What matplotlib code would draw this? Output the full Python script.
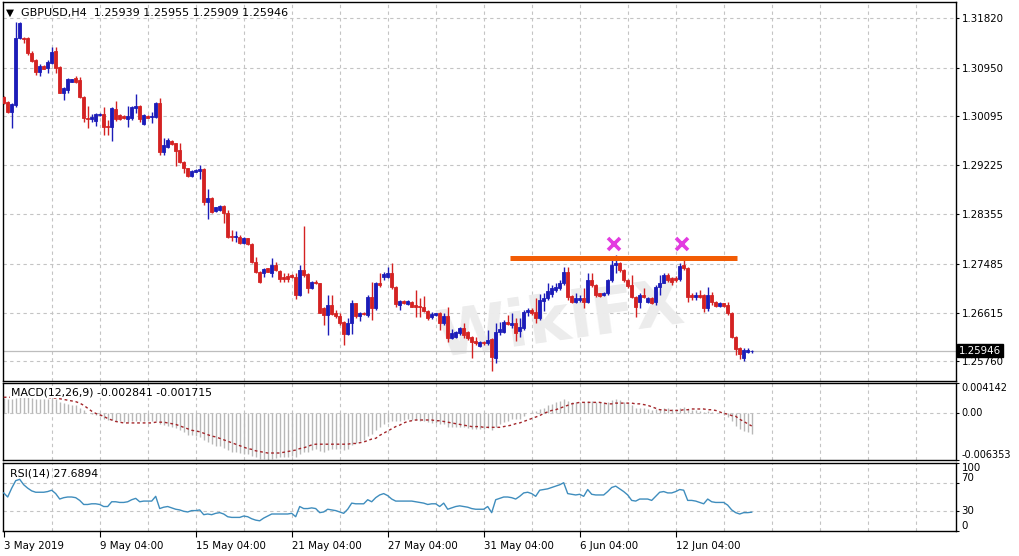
import matplotlib
matplotlib.use("Agg")
from matplotlib import pyplot as plt
import numpy as np

# ---- candles (H4 bars, left to right) ----
opens = [1.30423, 1.30347, 1.30170, 1.30288, 1.31466, 1.31477, 1.31477, 1.31212, 1.31083, 1.30877,
         1.30977, 1.30947, 1.31036, 1.31242, 1.30965, 1.30506, 1.30553, 1.30700, 1.30759, 1.30729,
         1.30435, 1.30064, 1.30040, 1.30011, 1.30111, 1.30123, 1.29917, 1.29905, 1.30211, 1.30111,
         1.30099, 1.30046, 1.30052, 1.30229, 1.30270, 1.29946, 1.30099, 1.30070, 1.30070, 1.30329,
         1.29463, 1.29540, 1.29657, 1.29610, 1.29493, 1.29286, 1.29169, 1.29033, 1.29110, 1.29127,
         1.29151, 1.28579, 1.28638, 1.28420, 1.28432, 1.28503, 1.28373, 1.27973, 1.27949, 1.27949,
         1.27843, 1.27932, 1.27832, 1.27519, 1.27343, 1.27325, 1.27402, 1.27325, 1.27460, 1.27360,
         1.27242, 1.27266, 1.27284, 1.27254, 1.26930, 1.27372, 1.27301, 1.27048, 1.27166, 1.27137,
         1.26695, 1.26577, 1.26754, 1.26607, 1.26559, 1.26459, 1.26241, 1.26430, 1.26783, 1.26559,
         1.26618, 1.26577, 1.26901, 1.26695, 1.27148, 1.27242, 1.27254, 1.27325, 1.27078, 1.26754,
         1.26824, 1.26771, 1.26812, 1.26754, 1.26736, 1.26712, 1.26653, 1.26548, 1.26571, 1.26607,
         1.26430, 1.26559, 1.26165, 1.26182, 1.26253, 1.26341, 1.26282, 1.26194, 1.26123, 1.26029,
         1.26106, 1.26076, 1.26147, 1.25811, 1.26282, 1.26282, 1.26459, 1.26400, 1.26441, 1.26300,
         1.26341, 1.26636, 1.26665, 1.26636, 1.26518, 1.26830, 1.26872, 1.26948, 1.27019, 1.27048,
         1.27137, 1.27343, 1.26919, 1.26813, 1.26842, 1.26883, 1.26813, 1.27195, 1.27107, 1.26960,
         1.26924, 1.26960, 1.27195, 1.27460, 1.27490, 1.27372, 1.27195, 1.27107, 1.26901, 1.26813,
         1.26930, 1.26813, 1.26872, 1.26813, 1.27078, 1.27148, 1.27278, 1.27225, 1.27225, 1.27207,
         1.27460, 1.27402, 1.26930, 1.26889, 1.26936, 1.26930, 1.26695, 1.26930, 1.26813, 1.26736,
         1.26783, 1.26754, 1.26618, 1.26194, 1.25988, 1.25811, 1.25929, 1.25939]
highs = [1.30447, 1.30364, 1.30329, 1.31760, 1.31760, 1.31495, 1.31495, 1.31248, 1.31095, 1.31012,
         1.30989, 1.31083, 1.31318, 1.31307, 1.30977, 1.30612, 1.30759, 1.30753, 1.30800, 1.30777,
         1.30447, 1.30270, 1.30123, 1.30140, 1.30152, 1.30246, 1.30023, 1.30246, 1.30364, 1.30123,
         1.30111, 1.30270, 1.30270, 1.30482, 1.30288, 1.30123, 1.30111, 1.30170, 1.30347, 1.30405,
         1.29699, 1.29699, 1.29669, 1.29622, 1.29622, 1.29298, 1.29180, 1.29139, 1.29151, 1.29227,
         1.29169, 1.28798, 1.28656, 1.28491, 1.28521, 1.28521, 1.28432, 1.28079, 1.28067, 1.27990,
         1.27961, 1.27943, 1.27843, 1.27608, 1.27360, 1.27402, 1.27413, 1.27578, 1.27519, 1.27372,
         1.27313, 1.27325, 1.27296, 1.27313, 1.27460, 1.28149, 1.27325, 1.27184, 1.27195, 1.27148,
         1.26712, 1.26930, 1.26930, 1.26665, 1.26607, 1.26477, 1.26518, 1.26842, 1.26795, 1.26636,
         1.26636, 1.26930, 1.27166, 1.27166, 1.27313, 1.27343, 1.27431, 1.27490, 1.27090, 1.26842,
         1.26842, 1.26842, 1.26830, 1.27019, 1.26872, 1.26913, 1.26665, 1.26636, 1.26618, 1.26636,
         1.26607, 1.26724, 1.26324, 1.26288, 1.26371, 1.26430, 1.26300, 1.26206, 1.26194, 1.26123,
         1.26123, 1.26312, 1.26165, 1.26441, 1.26459, 1.26489, 1.26577, 1.26607, 1.26518, 1.26518,
         1.26665, 1.26695, 1.26695, 1.26872, 1.26948, 1.26960, 1.27137, 1.27107, 1.27137, 1.27195,
         1.27431, 1.27431, 1.26930, 1.26960, 1.26930, 1.27048, 1.27313, 1.27313, 1.27125, 1.26972,
         1.26989, 1.27219, 1.27578, 1.27637, 1.27519, 1.27384, 1.27207, 1.27284, 1.26913, 1.26960,
         1.27048, 1.26889, 1.26889, 1.27107, 1.27284, 1.27313, 1.27325, 1.27254, 1.27266, 1.27490,
         1.27578, 1.27431, 1.26972, 1.26989, 1.27019, 1.26948, 1.27078, 1.26989, 1.26824, 1.26812,
         1.26795, 1.26812, 1.26636, 1.26206, 1.26017, 1.25988, 1.25988, 1.25955]
lows = [1.30305, 1.30140, 1.29875, 1.30258, 1.31454, 1.31377, 1.31171, 1.31047, 1.30818, 1.30800,
        1.30918, 1.30859, 1.31012, 1.30847, 1.30494, 1.30376, 1.30506, 1.30688, 1.30670, 1.30405,
        1.29993, 1.29875, 1.29993, 1.29917, 1.30093, 1.29758, 1.29758, 1.29657, 1.30011, 1.30023,
        1.30040, 1.29905, 1.30023, 1.30140, 1.29993, 1.29934, 1.30052, 1.29964, 1.30052, 1.29404,
        1.29404, 1.29522, 1.29587, 1.29216, 1.29257, 1.29080, 1.29021, 1.29021, 1.29098, 1.28974,
        1.28521, 1.28267, 1.28373, 1.28403, 1.28420, 1.28208, 1.27932, 1.27890, 1.27873, 1.27832,
        1.27832, 1.27820, 1.27490, 1.27313, 1.27137, 1.27242, 1.27331, 1.27254, 1.27360, 1.27166,
        1.27166, 1.27166, 1.27231, 1.26854, 1.26913, 1.27254, 1.26972, 1.27036, 1.27125, 1.26607,
        1.26400, 1.26223, 1.26577, 1.26518, 1.26400, 1.26047, 1.26223, 1.26241, 1.26518, 1.26477,
        1.26583, 1.26548, 1.26489, 1.26665, 1.27078, 1.27195, 1.27225, 1.27031, 1.26724, 1.26665,
        1.26771, 1.26754, 1.26712, 1.26548, 1.26548, 1.26636, 1.26489, 1.26501, 1.26559, 1.26312,
        1.26400, 1.26106, 1.26147, 1.26171, 1.26223, 1.26165, 1.26135, 1.25811, 1.26047, 1.26017,
        1.26047, 1.26047, 1.25593, 1.25723, 1.26223, 1.26253, 1.26400, 1.26341, 1.26123, 1.26194,
        1.26312, 1.26559, 1.26577, 1.26430, 1.26489, 1.26654, 1.26842, 1.26901, 1.26989, 1.27019,
        1.27107, 1.26842, 1.26795, 1.26783, 1.26813, 1.26695, 1.26783, 1.27078, 1.26901, 1.26889,
        1.26913, 1.26936, 1.27166, 1.27313, 1.27343, 1.27166, 1.27048, 1.26872, 1.26548, 1.26695,
        1.26872, 1.26795, 1.26771, 1.26754, 1.26930, 1.27137, 1.27166, 1.27107, 1.27166, 1.27184,
        1.27372, 1.26813, 1.26842, 1.26842, 1.26872, 1.26636, 1.26654, 1.26754, 1.26724, 1.26724,
        1.26724, 1.26577, 1.26165, 1.25870, 1.25794, 1.25770, 1.25899, 1.25909]
closes = [1.30329, 1.30170, 1.30305, 1.31466, 1.31742, 1.31448, 1.31201, 1.31065, 1.30877, 1.30977,
          1.30930, 1.31053, 1.31230, 1.30947, 1.30506, 1.30594, 1.30741, 1.30741, 1.30700, 1.30423,
          1.30052, 1.30040, 1.30082, 1.30129, 1.30135, 1.29905, 1.29899, 1.30229, 1.30034, 1.30034,
          1.30052, 1.30093, 1.30258, 1.30270, 1.30034, 1.30111, 1.30064, 1.30093, 1.30329, 1.29463,
          1.29581, 1.29669, 1.29598, 1.29481, 1.29286, 1.29169, 1.29039, 1.29122, 1.29139, 1.29151,
          1.28579, 1.28638, 1.28403, 1.28479, 1.28509, 1.28373, 1.27961, 1.27949, 1.27973, 1.27855,
          1.27932, 1.27832, 1.27519, 1.27343, 1.27166, 1.27384, 1.27343, 1.27460, 1.27372, 1.27207,
          1.27207, 1.27207, 1.27242, 1.26930, 1.27372, 1.27284, 1.27048, 1.27166, 1.27137, 1.26615,
          1.26577, 1.26754, 1.26595, 1.26559, 1.26430, 1.26241, 1.26441, 1.26783, 1.26559, 1.26618,
          1.26595, 1.26901, 1.26695, 1.27137, 1.27107, 1.27301, 1.27325, 1.27066, 1.26771, 1.26830,
          1.26783, 1.26824, 1.26724, 1.26724, 1.26712, 1.26653, 1.26518, 1.26595, 1.26607, 1.26430,
          1.26559, 1.26165, 1.26265, 1.26277, 1.26341, 1.26223, 1.26165, 1.26106, 1.26076, 1.26106,
          1.26076, 1.26135, 1.25829, 1.26282, 1.26324, 1.26459, 1.26418, 1.26441, 1.26253, 1.26359,
          1.26636, 1.26665, 1.26618, 1.26518, 1.26842, 1.26872, 1.27007, 1.27048, 1.27066, 1.27148,
          1.27343, 1.26901, 1.26813, 1.26872, 1.26872, 1.26813, 1.27195, 1.27107, 1.26930, 1.26913,
          1.26972, 1.27195, 1.27460, 1.27502, 1.27372, 1.27195, 1.27090, 1.26901, 1.26724, 1.26930,
          1.26901, 1.26872, 1.26795, 1.27078, 1.27137, 1.27284, 1.27195, 1.27166, 1.27195, 1.27443,
          1.27402, 1.26889, 1.26889, 1.26930, 1.26901, 1.26695, 1.26930, 1.26813, 1.26736, 1.26783,
          1.26736, 1.26618, 1.26194, 1.25970, 1.25888, 1.25959, 1.25959, 1.25946]

# ---- MACD(12,26,9): main (histogram) and signal ----
macd_main = [0.0021, 0.0020, 0.0019, 0.0021, 0.0023, 0.0023, 0.0022, 0.0021, 0.0020, 0.0020,
             0.0020, 0.0020, 0.0020, 0.0019, 0.0016, 0.0014, 0.0013, 0.0012, 0.0011, 0.0008,
             0.0004, 0.0001, -0.0001, -0.0002, -0.0004, -0.0007, -0.0009, -0.0009, -0.0010, -0.0011,
             -0.0012, -0.0012, -0.0011, -0.0010, -0.0011, -0.0011, -0.0011, -0.0011, -0.0010, -0.0014,
             -0.0016, -0.0017, -0.0018, -0.0020, -0.0023, -0.0026, -0.0029, -0.0030, -0.0031, -0.0032,
             -0.0036, -0.0039, -0.0042, -0.0044, -0.0045, -0.0047, -0.0050, -0.0052, -0.0053, -0.0054,
             -0.0055, -0.0056, -0.0058, -0.0060, -0.0062, -0.0062, -0.0063, -0.0062, -0.0061, -0.0060,
             -0.0060, -0.0059, -0.0058, -0.0059, -0.0055, -0.0053, -0.0052, -0.0050, -0.0049, -0.0051,
             -0.0052, -0.0050, -0.0049, -0.0048, -0.0048, -0.0050, -0.0048, -0.0043, -0.0041, -0.0038,
             -0.0036, -0.0031, -0.0028, -0.0022, -0.0019, -0.0015, -0.0012, -0.0011, -0.0011, -0.0010,
             -0.0009, -0.0008, -0.0009, -0.0009, -0.0010, -0.0011, -0.0012, -0.0013, -0.0013, -0.0015,
             -0.0015, -0.0018, -0.0018, -0.0019, -0.0019, -0.0019, -0.0020, -0.0021, -0.0021, -0.0021,
             -0.0021, -0.0020, -0.0022, -0.0018, -0.0015, -0.0012, -0.0010, -0.0008, -0.0008, -0.0007,
             -0.0003, 0.0000, 0.0002, 0.0003, 0.0006, 0.0008, 0.0011, 0.0013, 0.0015, 0.0017,
             0.0019, 0.0017, 0.0016, 0.0016, 0.0016, 0.0015, 0.0017, 0.0017, 0.0016, 0.0015,
             0.0015, 0.0016, 0.0018, 0.0019, 0.0018, 0.0016, 0.0014, 0.0011, 0.0008, 0.0008,
             0.0007, 0.0006, 0.0005, 0.0006, 0.0006, 0.0007, 0.0007, 0.0006, 0.0006, 0.0008,
             0.0009, 0.0006, 0.0005, 0.0004, 0.0003, 0.0002, 0.0003, 0.0002, 0.0001, 0.0000,
             -0.0002, -0.0005, -0.0011, -0.0017, -0.0021, -0.0024, -0.0026, -0.002841]
macd_signal = [0.0022, 0.0022, 0.0022, 0.0022, 0.0022, 0.0022, 0.0022, 0.0022, 0.0022, 0.0022,
               0.0022, 0.0022, 0.0021, 0.0021, 0.0020, 0.0019, 0.0018, 0.0017, 0.0016, 0.0014,
               0.0011, 0.0007, 0.0003, 0.0000, -0.0002, -0.0004, -0.0007, -0.0009, -0.0011, -0.0012,
               -0.0013, -0.0013, -0.0013, -0.0013, -0.0013, -0.0013, -0.0013, -0.0013, -0.0012, -0.0012,
               -0.0012, -0.0013, -0.0014, -0.0015, -0.0017, -0.0019, -0.0021, -0.0023, -0.0024, -0.0025,
               -0.0027, -0.0029, -0.0031, -0.0032, -0.0034, -0.0036, -0.0038, -0.0040, -0.0042, -0.0044,
               -0.0046, -0.0048, -0.0049, -0.0051, -0.0052, -0.0053, -0.0054, -0.0054, -0.0054, -0.0054,
               -0.0053, -0.0052, -0.0051, -0.0050, -0.0048, -0.0047, -0.0045, -0.0043, -0.0042, -0.0042,
               -0.0042, -0.0042, -0.0042, -0.0042, -0.0042, -0.0042, -0.0042, -0.0041, -0.0041, -0.0040,
               -0.0039, -0.0037, -0.0035, -0.0034, -0.0030, -0.0027, -0.0024, -0.0021, -0.0018, -0.0016,
               -0.0013, -0.0011, -0.0010, -0.0009, -0.0009, -0.0009, -0.0009, -0.0009, -0.0010, -0.0010,
               -0.0011, -0.0012, -0.0013, -0.0014, -0.0015, -0.0016, -0.0017, -0.0018, -0.0018, -0.0018,
               -0.0019, -0.0019, -0.0019, -0.0019, -0.0019, -0.0018, -0.0017, -0.0016, -0.0014, -0.0013,
               -0.0011, -0.0009, -0.0007, -0.0005, -0.0003, 0.0000, 0.0002, 0.0004, 0.0005, 0.0007,
               0.0009, 0.0011, 0.0013, 0.0014, 0.0015, 0.0015, 0.0015, 0.0015, 0.0015, 0.0015,
               0.0014, 0.0013, 0.0013, 0.0014, 0.0014, 0.0014, 0.0014, 0.0014, 0.0013, 0.0013,
               0.0012, 0.0011, 0.0009, 0.0007, 0.0005, 0.0005, 0.0004, 0.0004, 0.0004, 0.0004,
               0.0005, 0.0005, 0.0006, 0.0006, 0.0006, 0.0006, 0.0005, 0.0005, 0.0004, 0.0002,
               0.0000, -0.0001, -0.0003, -0.0004, -0.0008, -0.0011, -0.0014, -0.001715]

# ---- RSI(14) ----
rsi_values = [56, 50, 63, 74, 76, 68, 63, 59, 57, 57, 57, 58, 60, 55, 47, 49, 50, 50, 49, 45,
              39, 39, 40, 40, 39, 36, 36, 43, 43, 42, 42, 43, 46, 48, 43, 44, 44, 44, 51, 33,
              35, 36, 34, 32, 31, 29, 28, 30, 30, 31, 24, 25, 24, 26, 27, 25, 21, 20, 20, 20,
              22, 21, 18, 16, 15, 19, 22, 25, 25, 25, 25, 25, 26, 21, 36, 33, 33, 34, 33, 27,
              28, 32, 31, 30, 28, 26, 32, 41, 40, 40, 40, 46, 43, 49, 53, 55, 52, 47, 44, 44,
              44, 44, 44, 43, 42, 41, 39, 40, 40, 36, 41, 32, 34, 36, 37, 36, 35, 33, 32, 32,
              32, 36, 27, 46, 48, 50, 50, 49, 47, 51, 56, 57, 55, 51, 60, 61, 62, 64, 66, 68,
              71, 55, 54, 53, 54, 51, 61, 54, 53, 53, 53, 58, 64, 66, 62, 58, 53, 45, 44, 47,
              47, 47, 45, 51, 57, 58, 56, 56, 58, 61, 60, 45, 45, 44, 42, 40, 47, 43, 42, 42,
              42, 38, 31, 27, 25, 27, 27, 27.6894]

n = len(closes)
assert len(opens) == len(highs) == len(lows) == n
assert len(macd_main) == len(macd_signal) == len(rsi_values) == n

price_ticks = [1.31820, 1.30950, 1.30095, 1.29225, 1.28355, 1.27485, 1.26615, 1.25760]
date_labels = ["3 May 2019", "9 May 04:00", "15 May 04:00", "21 May 04:00",
               "27 May 04:00", "31 May 04:00", "6 Jun 04:00", "12 Jun 04:00"]
date_bars = [0, 24, 48, 72, 96, 120, 144, 168]
last_price = 1.25946
macd_top, macd_bottom = 0.004142, -0.006353
rsi_levels = [70, 30]

# drawn objects on the chart
resistance_price = 1.2759
resistance_bars = [126.6, 183.3]
top_marks_bars = [152.6, 169.6]
top_marks_price = 1.2784

BLUE = "#1c1cb8"
RED = "#d42222"
GRID = "#c4c4c4"
FS = 7.4

W, H = 1020, 556
fig = plt.figure(figsize=(W / 100, H / 100), dpi=100)
plt.rcParams['font.family'] = ['DejaVu Sans']


def px_axes(x0, y0, x1, y1):
    return fig.add_axes([x0 / W, 1 - y1 / H, (x1 - x0) / W, (y1 - y0) / H])


ax = px_axes(3, 2, 956, 381)
ax_macd = px_axes(3, 383, 956, 460)
ax_rsi = px_axes(3, 463, 956, 531)

x = np.arange(n)
xlim = (-0.175, -0.175 + 953 / 4)
grid_bars = np.arange(12, 240, 12)

for a in (ax, ax_macd, ax_rsi):
    a.set_xlim(*xlim)
    a.set_facecolor("white")
    for s in a.spines.values():
        s.set_color("black")
        s.set_linewidth(1.0)
    for gb in grid_bars:
        a.axvline(gb, color=GRID, lw=0.8, ls=(0, (3, 3)), zorder=0.5)
    a.yaxis.tick_right()
    a.tick_params(axis="y", length=2.5, width=0.8, pad=1.5, labelsize=FS, colors="black")
    a.tick_params(axis="x", length=0, labelbottom=False)

# ---- main price panel ----
ax.set_ylim(1.25411, 1.32108)
ax.set_yticks(price_ticks)
ax.set_yticklabels([f"{p:.5f}" for p in price_ticks])
for p in price_ticks:
    ax.axhline(p, color=GRID, lw=0.8, ls=(0, (3, 3)), zorder=0.5)

# faint watermark behind the candles
ax.text(0.585, 0.155, "WikiFX", transform=ax.transAxes, fontsize=46, fontweight="bold",
        color="#ececec", rotation=8, ha="center", va="center", zorder=0.6)

o = np.array(opens)
c = np.array(closes)
colors = [BLUE if cc >= oo else RED for oo, cc in zip(o, c)]
ax.vlines(x, lows, highs, colors=colors, lw=1.0, zorder=2)
ax.bar(x, np.abs(c - o), bottom=np.minimum(o, c), width=0.7, color=colors,
       edgecolor=colors, linewidth=0.6, zorder=3)

ax.axhline(last_price, color="#bdbdbd", lw=0.9, zorder=1)
ax.text(1.003, last_price, f"{last_price:.5f}", transform=ax.get_yaxis_transform(),
        fontsize=FS, color="white", va="center", ha="left",
        bbox=dict(boxstyle="square,pad=0.15", fc="black", ec="black"))

ax.plot(resistance_bars, [resistance_price] * 2, color="#f25c05", lw=3.6,
        solid_capstyle="butt", zorder=4)
ax.plot(top_marks_bars, [top_marks_price] * 2, "x", color="#e33be0", ms=8, mew=2.6, zorder=5)

fig.text(6 / W, 1 - 12.5 / H, "\u25bc", fontsize=7.5, va="center", ha="left")
fig.text(21 / W, 1 - 13 / H, "GBPUSD,H4  1.25939 1.25955 1.25909 1.25946",
         fontsize=8, va="center", ha="left")

# ---- MACD panel ----
ax_macd.set_ylim(macd_bottom, macd_top)
ax_macd.vlines(x, 0, macd_main, colors="#b8b8b8", lw=1.0, zorder=2)
ax_macd.plot(x, macd_signal, color="#a3262a", lw=1.0, ls=(0, (2, 2)), zorder=3)
ax_macd.axhline(0, color=GRID, lw=0.8, ls=(0, (3, 3)), zorder=0.5)
ax_macd.set_yticks([macd_top, 0, macd_bottom])
ax_macd.set_yticklabels([f"{macd_top:.6f}", "0.00", f"{macd_bottom:.6f}"])
ax_macd.tick_params(axis="y", labelsize=7.0, pad=1.2)
for lab, va in zip(ax_macd.get_yticklabels(), ["top", "center", "bottom"]):
    lab.set_va(va)
ax_macd.text(8 / 953, 0.88, "MACD(12,26,9) -0.002841 -0.001715", transform=ax_macd.transAxes,
             fontsize=7.8, va="center", ha="left", zorder=6,
             bbox=dict(boxstyle="square,pad=0.1", fc="white", ec="none"))

# ---- RSI panel ----
ax_rsi.set_ylim(0, 100)
ax_rsi.plot(x, rsi_values, color="#3f8dbd", lw=1.0, zorder=3)
for lv in rsi_levels:
    ax_rsi.axhline(lv, color=GRID, lw=0.8, ls=(0, (3, 3)), zorder=0.5)
ax_rsi.set_yticks([100, 70, 30, 0])
ax_rsi.set_yticklabels(["100", "70", "30", "0"])
for lab, va in zip(ax_rsi.get_yticklabels(), ["top", "bottom", "center", "bottom"]):
    lab.set_va(va)
ax_rsi.text(7 / 953, 0.85, "RSI(14) 27.6894", transform=ax_rsi.transAxes,
            fontsize=7.8, va="center", ha="left", zorder=6)

ax_rsi.set_xticks(date_bars)
ax_rsi.set_xticklabels(date_labels)
ax_rsi.tick_params(axis="x", length=4, width=0.8, direction="out", labelbottom=True,
                   labelsize=FS, pad=3)
for lab in ax_rsi.get_xticklabels():
    lab.set_ha("left")

fig.savefig("out.png", dpi=100, facecolor="white")
